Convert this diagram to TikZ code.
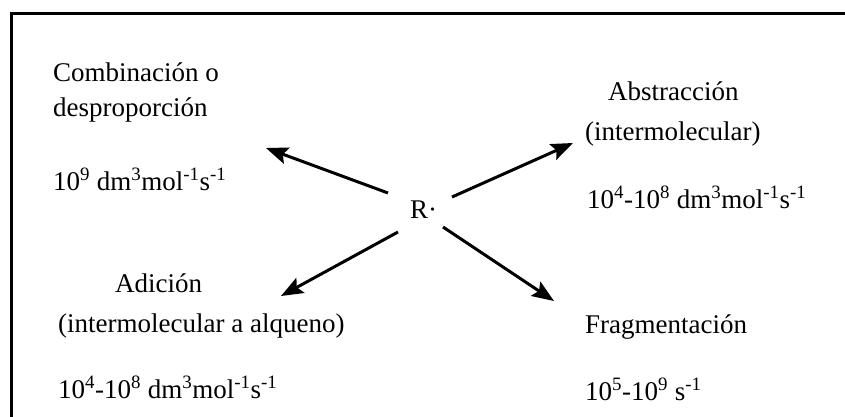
\documentclass[tikz,border=0pt]{standalone}
\usepackage{fontspec}
\setmainfont{Liberation Serif}
\usetikzlibrary{arrows.meta}
\begin{document}
\begin{tikzpicture}[x=1pt,y=-1pt,
  txt/.style={anchor=base west,inner sep=0pt,font=\fontsize{27}{32}\selectfont},
  arr/.style={line width=3pt,-{Stealth[length=22pt,width=17pt,inset=4pt]}},
  frame/.style={line width=3pt,line cap=rect}]
\useasboundingbox (0,0) rectangle (845,417);
\draw[frame] (11,430) -- (11,14) -- (860,14);
% labels
\node[txt] (c1) at (53,82) {Combinación o};
\node[txt] (c2) at (53,117) {desproporción};
\node[txt] (c3) at (53,190) {10\textsuperscript{9} dm\textsuperscript{3}mol\textsuperscript{-1}s\textsuperscript{-1}};
\node[txt] (a1) at (608,101) {Abstracción};
\node[txt] (a2) at (585,140) {(intermolecular)};
\node[txt] (a3) at (587,208) {10\textsuperscript{4}-10\textsuperscript{8} dm\textsuperscript{3}mol\textsuperscript{-1}s\textsuperscript{-1}};
\node[txt] (d1) at (115,292) {Adición};
\node[txt] (d2) at (58,332) {(intermolecular a alqueno)};
\node[txt] (d3) at (58,398) {10\textsuperscript{4}-10\textsuperscript{8} dm\textsuperscript{3}mol\textsuperscript{-1}s\textsuperscript{-1}};
\node[txt] (f1) at (585,333) {Fragmentación};
\node[txt] (f2) at (585,400) {10\textsuperscript{5}-10\textsuperscript{9} s\textsuperscript{-1}};
\node[txt] (r) at (410,218) {R·};
% arrow ends
\coordinate (pNW) at (266,148);
\coordinate (pNE) at (573,143);
\coordinate (pSW) at (281,296);
\coordinate (pSE) at (554,301);
\coordinate (sNW) at (388,193);
\coordinate (sNE) at (452,197);
\coordinate (sSW) at (398,232);
\coordinate (sSE) at (443,227);
\draw[arr] (sNW) -- (pNW);
\draw[arr] (sNE) -- (pNE);
\draw[arr] (sSW) -- (pSW);
\draw[arr] (sSE) -- (pSE);
\end{tikzpicture}
\end{document}
